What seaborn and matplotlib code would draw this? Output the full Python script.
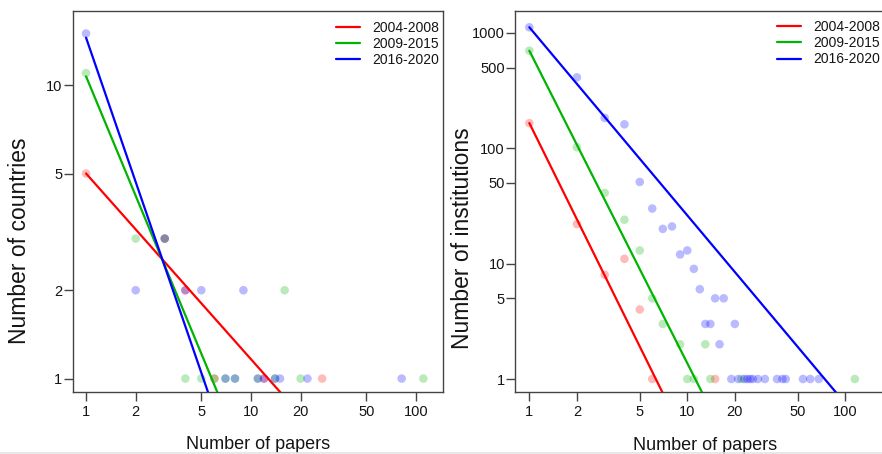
import numpy as np
import pandas as pd
import matplotlib
matplotlib.use("Agg")
import matplotlib.pyplot as plt
from matplotlib.lines import Line2D
from matplotlib.ticker import NullLocator, FixedLocator, FixedFormatter
import seaborn as sns

# ---- data -------------------------------------------------------------
periods = ["2004-2008", "2009-2015", "2016-2020"]
colors = ["#FF0000", "#00B400", "#0000FF"]

# countries: number of papers per country -> how many countries
cty_x_0408 = [1, 3, 4, 6, 12, 27]
cty_y_0408 = [5, 3, 2, 1, 1, 1]
cty_x_0915 = [1, 2, 3, 4, 5, 6, 7, 8, 11, 14, 16, 20, 111]
cty_y_0915 = [11, 3, 3, 1, 1, 1, 1, 1, 1, 1, 2, 1, 1]
cty_x_1620 = [1, 2, 3, 4, 5, 7, 8, 9, 11, 12, 14, 15, 22, 82]
cty_y_1620 = [15, 2, 3, 2, 2, 1, 1, 2, 1, 1, 1, 1, 1, 1]

# institutions: number of papers per institution -> how many institutions
inst_x_0408 = [1, 2, 3, 4, 5, 6, 15]
inst_y_0408 = [165, 22, 8, 11, 4, 1, 1]
inst_x_0915 = [1, 2, 3, 4, 5, 6, 7, 9, 10, 11, 13, 14, 22, 115]
inst_y_0915 = [700, 102, 41, 24, 13, 5, 3, 2, 1, 1, 2, 1, 1, 1]
inst_x_1620 = [1, 2, 3, 4, 5, 6, 7, 8, 9, 10, 11, 12, 13, 14, 15, 16, 17, 20,
               19, 21, 23, 24, 25, 26, 28, 31, 37, 40, 42, 54, 60, 68]
inst_y_1620 = [1116, 411, 183, 161, 51, 30, 20, 21, 12, 13, 9, 6, 3, 3, 5, 2, 5, 3,
               1, 1, 1, 1, 1, 1, 1, 1, 1, 1, 1, 1, 1, 1]

# power-law fits on log10 scale: log10(y) = intercept + slope * log10(x)
cty_fit_intercept = [0.699, 1.030, 1.162]
cty_fit_slope = [-0.633, -1.352, -1.634]
inst_fit_intercept = [2.218, 2.845, 3.048]
inst_fit_slope = [-2.77, -2.708, -1.63]

cty_xticks = [1, 2, 5, 10, 20, 50, 100]
cty_yticks = [1, 2, 5, 10]
inst_xticks = [1, 2, 5, 10, 20, 50, 100]
inst_yticks = [1, 5, 10, 50, 100, 500, 1000]


def points_frame(xs, ys):
    parts = [pd.DataFrame({"papers": x, "count": y, "period": p})
             for x, y, p in zip(xs, ys, periods)]
    return pd.concat(parts, ignore_index=True)


def fit_frame(intercepts, slopes):
    x = np.array([1.0, 1000.0])
    parts = [pd.DataFrame({"papers": x,
                           "count": 10 ** (a + b * np.log10(x)),
                           "period": p})
             for a, b, p in zip(intercepts, slopes, periods)]
    return pd.concat(parts, ignore_index=True)


sns.set_style("ticks")
plt.rcParams["font.family"] = ["Liberation Sans", "DejaVu Sans"]

fig = plt.figure(figsize=(8.82, 4.54), dpi=100)
W, H = 882.0, 454.0


def px_axes(left, top, right, bottom):
    return fig.add_axes([left / W, 1 - bottom / H, (right - left) / W, (bottom - top) / H])


ax1 = px_axes(72.7, 11, 443, 392)
ax2 = px_axes(515.3, 11, 895, 392.3)

palette = dict(zip(periods, colors))
spine_c = "#444444"
text_c = "#151515"

panels = [
    (ax1, points_frame([cty_x_0408, cty_x_0915, cty_x_1620],
                       [cty_y_0408, cty_y_0915, cty_y_1620]),
     fit_frame(cty_fit_intercept, cty_fit_slope),
     (0.83, 146), (0.90, 17.9), cty_xticks, cty_yticks,
     "Number of countries", (-0.145, 0.396), (0.711, 0.975)),
    (ax2, points_frame([inst_x_0408, inst_x_0915, inst_x_1620],
                       [inst_y_0408, inst_y_0915, inst_y_1620]),
     fit_frame(inst_fit_intercept, inst_fit_slope),
     (0.815, 206.5), (0.767, 1545), inst_xticks, inst_yticks,
     "Number of institutions", (-0.139, 0.405), (0.689, 0.9765)),
]

for ax, pts, fit, xlim, ylim, xt, yt, ylab, ylab_pos, leg_pos in panels:
    ax.set_xscale("log")
    ax.set_yscale("log")
    sns.scatterplot(data=pts, x="papers", y="count", hue="period", palette=palette,
                    alpha=0.27, s=38, linewidth=0, legend=False, ax=ax, zorder=2)
    sns.lineplot(data=fit, x="papers", y="count", hue="period", palette=palette,
                 estimator=None, sort=False, linewidth=1.6, legend=False, ax=ax, zorder=3)
    ax.set_xlim(*xlim)
    ax.set_ylim(*ylim)
    ax.xaxis.set_major_locator(FixedLocator(xt))
    ax.xaxis.set_major_formatter(FixedFormatter([str(v) for v in xt]))
    ax.yaxis.set_major_locator(FixedLocator(yt))
    ax.yaxis.set_major_formatter(FixedFormatter([str(v) for v in yt]))
    ax.xaxis.set_minor_locator(NullLocator())
    ax.yaxis.set_minor_locator(NullLocator())
    for s in ax.spines.values():
        s.set_visible(True)
        s.set_color(spine_c)
        s.set_linewidth(1.0)
    ax.tick_params(axis="both", direction="out", length=6.5, width=1.0,
                   color=spine_c, labelsize=10.5, labelcolor=text_c)
    ax.tick_params(axis="x", pad=2.5)
    ax.tick_params(axis="y", pad=1)
    ax.set_facecolor("white")

    ax.set_xlabel("Number of papers", fontsize=13, color=text_c)
    ax.xaxis.set_label_coords(0.5, -0.139)
    ax.xaxis.label.set_va("center")
    ax.set_ylabel(ylab, fontsize=16.5, color=text_c)
    ax.yaxis.set_label_coords(*ylab_pos)
    ax.yaxis.label.set_va("center")

    handles = [Line2D([], [], color=c, linewidth=1.6) for c in colors]
    ax.legend(handles, periods, loc="upper left", bbox_to_anchor=leg_pos,
              frameon=False, borderpad=0, borderaxespad=0, handlelength=1.75,
              handletextpad=0.84, labelspacing=0.16, fontsize=10,
              labelcolor=text_c)

# thin light rule along the bottom edge
fig.add_artist(Line2D([0, 1], [1.5 / H, 1.5 / H], transform=fig.transFigure,
                      color="#e4e4e4", linewidth=1.2))

fig.savefig("out.png", dpi=100)
